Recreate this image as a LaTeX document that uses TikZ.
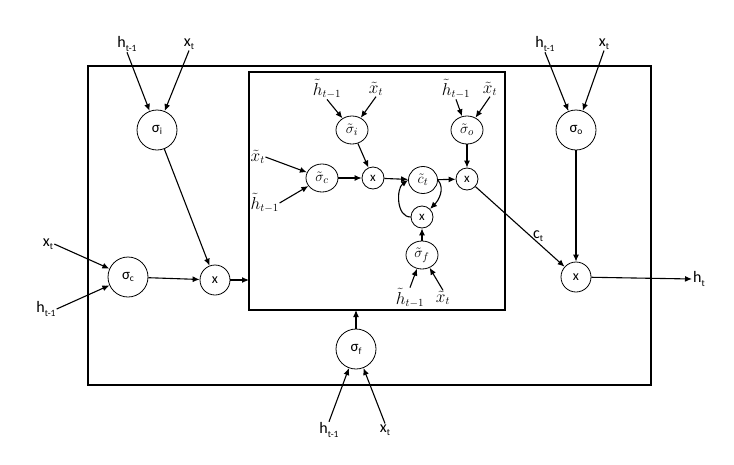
\documentclass[tikz,border=0pt]{standalone}
\usepackage{fontspec}
\setmainfont{Carlito}
\usetikzlibrary{arrows.meta,shapes.geometric}
\newcommand{\mysub}[1]{\raisebox{-0.4ex}{\fontsize{9.5}{10}\selectfont #1}}
\begin{document}
\begin{tikzpicture}[x=1pt,y=-1pt,
  arr/.style={-{Latex[length=7pt,width=6pt]},line width=1.1pt},
  bigbox/.style={draw,line width=2.6pt,inner sep=0pt,outer sep=0pt},
  gate/.style={draw,circle,line width=0.8pt,minimum size=40pt,inner sep=0pt,font=\fontsize{15}{17}\selectfont},
  mult/.style={draw,circle,line width=0.8pt,minimum size=30pt,inner sep=0pt,font=\fontsize{14}{16}\selectfont},
  tgate/.style={draw,ellipse,line width=0.8pt,minimum width=32pt,minimum height=28pt,inner sep=0pt,font=\fontsize{15}{17}\selectfont},
  tmult/.style={draw,circle,line width=0.8pt,minimum size=22pt,inner sep=0pt,font=\fontsize{13}{15}\selectfont},
  lab/.style={inner sep=1pt,font=\fontsize{16}{18}\selectfont},
  tlab/.style={inner sep=0.5pt,font=\fontsize{16}{18}\selectfont}]
\useasboundingbox (0,0) rectangle (734,464);
% boxes
\node[bigbox,minimum width=563pt,minimum height=319pt] (outer) at (369.5,225.5) {};
\node[bigbox,minimum width=256pt,minimum height=238pt] (inner) at (377,191) {};
% outer gates
\node[gate] (si) at (157,130) {σ\mysub{i}};
\node[lab] (hi) at (127,44) {h\mysub{t-1}};
\node[lab] (xi) at (189,44) {x\mysub{t}};
\node[gate] (sc) at (128,277) {σ\mysub{c}};
\node[lab] (xc) at (48,244) {x\mysub{t}};
\node[lab] (hc) at (46,309) {h\mysub{t-1}};
\node[mult] (mx) at (215,280) {x};
\node[gate] (sf) at (356,349) {σ\mysub{f}};
\node[lab] (hf) at (329,430) {h\mysub{t-1}};
\node[lab] (xf) at (385,430) {x\mysub{t}};
\node[gate] (so) at (576,130) {σ\mysub{o}};
\node[lab] (ho) at (545,44) {h\mysub{t-1}};
\node[lab] (xo) at (604,44) {x\mysub{t}};
\node[mult] (ox) at (576,277) {x};
\node[lab] (ht) at (699,279) {h\mysub{t}};
\node[lab] (ct) at (538,236) {c\mysub{t}};
% inner gates
\node[tgate] (tsi) at (352,130) {$\tilde{\sigma}_i$};
\node[tlab] (thi) at (327,89) {$\tilde{h}_{t-1}$};
\node[tlab] (txi) at (376,89) {$\tilde{x}_t$};
\node[tgate] (tsc) at (322,178) {$\tilde{\sigma}_c$};
\node[tlab,anchor=west] (txc) at (250,157) {$\tilde{x}_t$};
\node[tlab,anchor=west] (thc) at (250,203) {$\tilde{h}_{t-1}$};
\node[tmult] (x1) at (373,178) {x};
\node[tgate,minimum width=29pt,minimum height=27pt] (tct) at (423,180) {$\tilde{c}_t$};
\node[tmult] (x2) at (467,179) {x};
\node[tgate] (tso) at (467,130) {$\tilde{\sigma}_o$};
\node[tlab] (tho) at (456,89) {$\tilde{h}_{t-1}$};
\node[tlab] (txo) at (490,89) {$\tilde{x}_t$};
\node[tmult] (x3) at (422,217) {x};
\node[tgate] (tsf) at (422,255) {$\tilde{\sigma}_f$};
\node[tlab] (thf) at (410,298) {$\tilde{h}_{t-1}$};
\node[tlab] (txf) at (443,298) {$\tilde{x}_t$};
% outer arrows
\draw[arr] (hi.south) -- (si);
\draw[arr] (xi.south) -- (si);
\draw[arr] (xc.east) -- (sc);
\draw[arr] (hc.east) -- (sc);
\draw[arr] (sc) -- (mx);
\draw[arr] (si) -- (mx);
\draw[arr] (mx) -- (mx -| inner.west);
\draw[arr] (hf.north) -- (sf);
\draw[arr] (xf.north) -- (sf);
\draw[arr] (sf) -- (sf |- inner.south);
\draw[arr] (ho.south) -- (so);
\draw[arr] (xo.south) -- (so);
\draw[arr] (so) -- (ox);
\draw[arr] (ox) -- (ht.west);
\draw[arr] (x2) -- (ox);
% inner arrows
\draw[arr] (thi.south) -- (tsi);
\draw[arr] (txi.south) -- (tsi);
\draw[arr] (txc.east) -- (tsc);
\draw[arr] (thc.east) -- (tsc);
\draw[arr] (tsc) -- (x1);
\draw[arr] (tsi) -- (x1);
\draw[arr] (x1) -- (tct);
\draw[arr] (tct) -- (x2);
\draw[arr] (tso) -- (x2);
\draw[arr] (tho.south) -- (tso);
\draw[arr] (txo.south) -- (tso);
\draw[arr] (tsf) -- (x3);
\draw[arr] (thf.north) -- (tsf);
\draw[arr] (txf.north) -- (tsf);
\draw[arr] (x3.west) to[out=180,in=215] (tct.west);
\draw[arr] (tct.east) to[out=-50,in=45] (x3.north east);
\end{tikzpicture}
\end{document}
